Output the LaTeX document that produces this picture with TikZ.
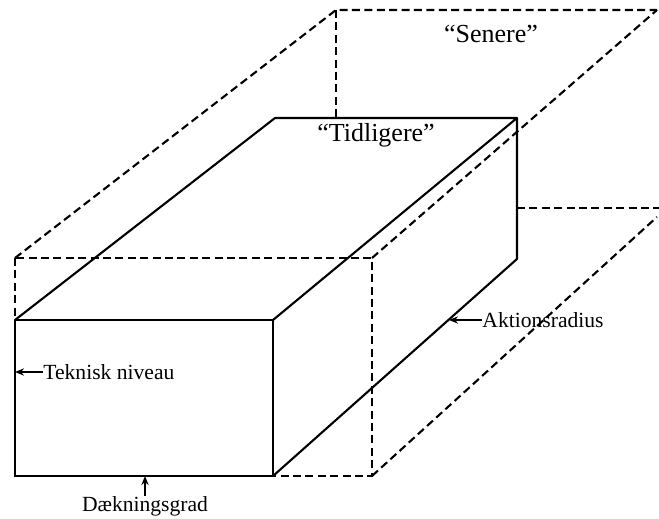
\documentclass[tikz,border=0pt]{standalone}
\usepackage{fontspec}
\setmainfont{Liberation Serif}
\usetikzlibrary{arrows.meta,positioning}

\begin{document}
\begin{tikzpicture}[x=0.5pt,y=-0.5pt,
    solidedge/.style={line width=1.05pt, line join=round},
    dashedge/.style={line width=1.05pt, dash pattern=on 4pt off 2.2pt},
    pointer/.style={-{Stealth[length=4.5pt,width=3.6pt]}, line width=0.8pt},
    lbl/.style={font=\fontsize{10.8}{13}\selectfont, inner sep=0pt},
    phase/.style={font=\fontsize{13}{15}\selectfont, inner sep=0pt}]
  \useasboundingbox (0,0) rectangle (659,519);
  % "Tidligere" box corners
  \coordinate (ftl) at (15,320);
  \coordinate (ftr) at (273,320);
  \coordinate (fbl) at (15,476);
  \coordinate (fbr) at (273,476);
  \coordinate (btl) at (275,118);
  \coordinate (btr) at (517,118);
  \coordinate (bbr) at (517,259);
  % "Senere" box corners
  \coordinate (stl) at (15,258);
  \coordinate (str) at (372,258);
  \coordinate (sbr) at (372,476);
  \coordinate (sbtl) at (336,10);
  \coordinate (sbtr) at (657,10);
  \coordinate (sbbl) at (517,208);
  \coordinate (sbbr) at (659,208);
  \coordinate (sbend) at (657,217);
  % Senere (dashed)
  \draw[dashedge] (stl) rectangle (sbr);
  \draw[dashedge] (stl) -- (sbtl) -- (sbtr);
  \draw[dashedge] (str) -- (sbtr);
  \draw[dashedge] (sbtl) -- (sbtl |- btl);
  \draw[dashedge] (sbbl) -- (sbbr);
  \draw[dashedge] (sbr) -- (sbend);
  % Tidligere (solid)
  \draw[solidedge] (ftl) rectangle (fbr);
  \draw[solidedge] (ftl) -- (btl) -- (btr) -- (ftr);
  \draw[solidedge] (btr) -- (bbr) -- (fbr);
  % labels
  \node[phase, anchor=base] (senere) at (491,43) {“Senere”};
  \node[phase, anchor=base] (tidligere) at (376,141) {“Tidligere”};
  \node[lbl, anchor=west] (teknisk) at (43,372) {Teknisk niveau};
  \node[lbl, anchor=west] (aktion) at (482,320) {Aktionsradius};
  \node[lbl, anchor=north] (daek) at (145,496) {Dækningsgrad};
  \coordinate (radius) at (449,320);
  \draw[pointer] (teknisk.west) -- (ftl |- teknisk.west);
  \draw[pointer] (aktion.west) -- (radius);
  \draw[pointer] (daek.north) -- (daek.north |- fbl);
\end{tikzpicture}
\end{document}
